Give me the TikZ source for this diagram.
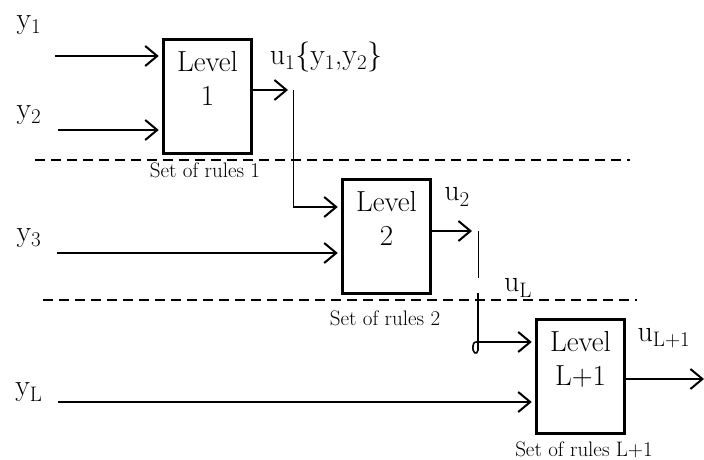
\documentclass[tikz,border=0pt]{standalone}
\usetikzlibrary{arrows.meta,positioning}
\tikzset{
  levelbox/.style={draw,line width=3.5pt,minimum width=88pt,minimum height=114pt,anchor=north west,inner sep=0pt},
  boxtext/.style={align=center,inner sep=0pt,font=\fontsize{29}{34}\selectfont},
  sig/.style={inner sep=0pt,font=\fontsize{30}{32}\selectfont},
  rules/.style={inner sep=0pt,font=\fontsize{21}{24}\selectfont},
  flow/.style={line width=2pt,-{Straight Barb[length=12pt,width=20pt]}},
  wire/.style={line width=1pt},
  divider/.style={line width=2pt,dash pattern=on 10pt off 6pt}
}
\begin{document}
\begin{tikzpicture}[x=1pt,y=-1pt]
  \useasboundingbox (0,0) rectangle (704,460);
  % levels
  \node[levelbox] (l1) at (161.75,37.75) {};
  \node[levelbox] (l2) at (340.75,177.75) {};
  \node[levelbox] (l3) at (534.75,317.75) {};
  \node[boxtext,below=13pt of l1.north] {Level\\1};
  \node[boxtext,below=13pt of l2.north] {Level\\2};
  \node[boxtext,below=13pt of l3.north] {Level\\L+1};
  \node[rules] (r1) at (205,170) {Set of rules 1};
  \node[rules] (r2) at (385,318) {Set of rules 2};
  \node[rules] (r3) at (584,450) {Set of rules L+1};
  % inputs
  \node[sig] (y1) at (29,25) {y\textsubscript{1}};
  \node[sig] (y2) at (29,115) {y\textsubscript{2}};
  \node[sig] (y3) at (29,238) {y\textsubscript{3}};
  \node[sig] (yL) at (29,392) {y\textsubscript{L}};
  \coordinate (a1) at (55,56);
  \coordinate (a2) at (58,130);
  \coordinate (a3) at (57,253);
  \coordinate (aL) at (58,402);
  \draw[flow,shorten >=3pt] (a1) -- (a1 -| l1.west);
  \draw[flow,shorten >=3pt] (a2) -- (a2 -| l1.west);
  \draw[flow,shorten >=3pt] (a3) -- (a3 -| l2.west);
  \draw[flow,shorten >=3pt] (aL) -- (aL -| l3.west);
  % outputs
  \node[sig] (u1) at (326,57) {u\textsubscript{1}\{y\textsubscript{1},y\textsubscript{2}\}};
  \node[sig] (u2) at (457,197) {u\textsubscript{2}};
  \node[sig] (uL) at (518,288) {u\textsubscript{L}};
  \node[sig] (uL1) at (664,338) {u\textsubscript{L+1}};
  \coordinate (k1) at (293,90);
  \coordinate (k2) at (293,207);
  \draw[flow,shorten >=5pt] (l1.east |- k1) -- (k1);
  \draw[wire] (k1) -- (k2);
  \draw[flow,shorten >=3pt] (k2) -- (k2 -| l2.west);
  \coordinate (m1) at (478,231);
  \coordinate (m2) at (478,278);
  \coordinate (m3) at (478,293);
  \coordinate (m4) at (478,342);
  \draw[flow,shorten >=6pt] (l2.east |- m1) -- (m1);
  \draw[wire] (m1) -- (m2);
  \draw[line width=1.6pt] (m3) -- (478,350) .. controls (477,356) and (472,353) .. (473,346) .. controls (474,342) .. (m4);
  \draw[flow,shorten >=3pt] (m4) -- (m4 -| l3.west);
  \coordinate (e1) at (704,379);
  \draw[flow] (l3.east |- e1) -- (e1);
  % dividers
  \coordinate (d1) at (35,160);
  \coordinate (d2) at (630,160);
  \coordinate (d3) at (43,300);
  \coordinate (d4) at (637,300);
  \draw[divider] (d1) -- (d2);
  \draw[divider] (d3) -- (d4);
\end{tikzpicture}
\end{document}
